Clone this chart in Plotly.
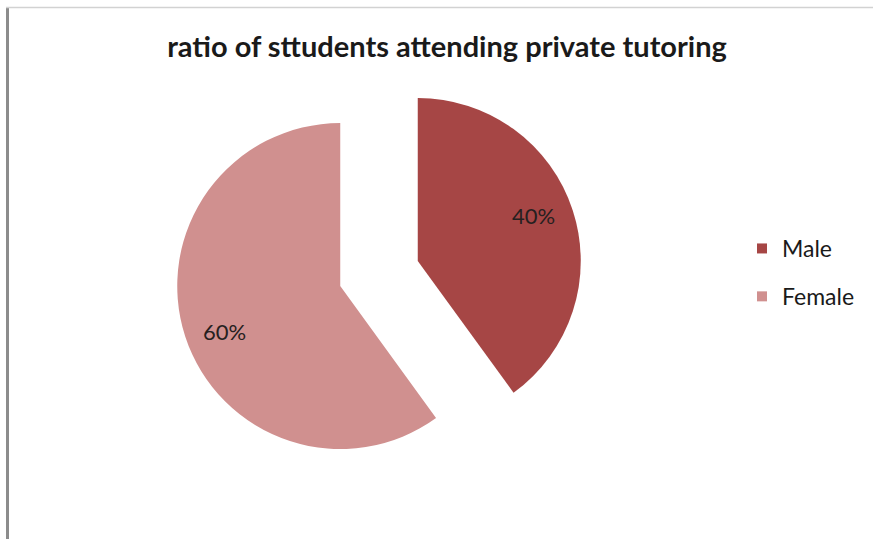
import math
import plotly.graph_objects as go

# Share of students attending private tutoring, by gender
genders = ["Male", "Female"]
shares = [40, 60]
slice_colors = ["#A64645", "#D0908F"]

title_text = "ratio of sttudents attending private tutoring"

W, H = 873, 539
cx, cy = 379, 273.5      # pie centre in pixels
pull = 0.25
radius = 163
half = radius * (1 + pull)   # half-extent plotly reserves for a pulled pie
label_frac = 0.76            # percent labels sit this far out along each slice
label_turn = -3.5            # degrees; nudges labels slightly counter-clockwise

fig = go.Figure()

fig.add_trace(go.Pie(
    labels=genders,
    values=shares,
    sort=False,
    direction="clockwise",
    rotation=0,
    pull=[pull, pull],
    marker=dict(colors=slice_colors, line=dict(width=0)),
    textinfo="none",
    showlegend=False,
    hoverinfo="label+percent",
    domain=dict(
        x=[(cx - half) / W, (cx + half) / W],
        y=[1 - (cy + half) / H, 1 - (cy - half) / H],
    ),
))

# Percent labels placed along each slice's mid-angle (clockwise from 12 o'clock)
total = sum(shares)
start = 0.0
annotations = []
for share in shares:
    frac = share / total
    mid = (start + frac / 2) * 2 * math.pi
    start += frac
    # slice offset follows the true mid-angle
    ox, oy = radius * pull * math.sin(mid), -radius * pull * math.cos(mid)
    ang = mid + math.radians(label_turn)
    px = cx + ox + radius * label_frac * math.sin(ang)
    py = cy + oy - radius * label_frac * math.cos(ang)
    annotations.append(dict(
        text=f"{frac:.0%}", x=px / W, y=1 - py / H,
        xref="paper", yref="paper", showarrow=False,
        xanchor="center", yanchor="middle",
        font=dict(family="Lato", size=22, color="#262020"),
    ))

# Legend entries, one group per gender so they can be spaced apart
for name, col in zip(genders, slice_colors):
    fig.add_trace(go.Scatter(
        x=[None], y=[None], mode="markers", name=name,
        legendgroup=name,
        marker=dict(symbol="square", size=10, color=col),
    ))

fig.update_layout(
    width=W, height=H,
    margin=dict(l=0, r=0, t=0, b=0),
    paper_bgcolor="white",
    plot_bgcolor="white",
    xaxis=dict(visible=False),
    yaxis=dict(visible=False),
    title=dict(
        text=title_text,
        font=dict(family="Lato", size=29, color="#1a1a1a", weight="bold"),
        x=447 / W, xanchor="center",
        y=1 - 47 / H, yanchor="middle", yref="container",
    ),
    legend=dict(
        x=742 / W, xanchor="left",
        y=1 - 227 / H, yanchor="top",
        font=dict(family="Lato", size=23, color="#1a1a1a"),
        tracegroupgap=15,
        bgcolor="rgba(0,0,0,0)",
        itemclick=False, itemdoubleclick=False,
    ),
    annotations=annotations,
    shapes=[
        # chart frame: grey left edge and light top edge
        dict(type="line", xref="paper", yref="paper",
             x0=7.5 / W, x1=7.5 / W, y0=0, y1=1 - 7 / H,
             line=dict(color="#8c8c8c", width=3)),
        dict(type="line", xref="paper", yref="paper",
             x0=6 / W, x1=1, y0=1 - 7.5 / H, y1=1 - 7.5 / H,
             line=dict(color="#d2d2d2", width=1.5)),
    ],
)

fig.write_html("out.html")
